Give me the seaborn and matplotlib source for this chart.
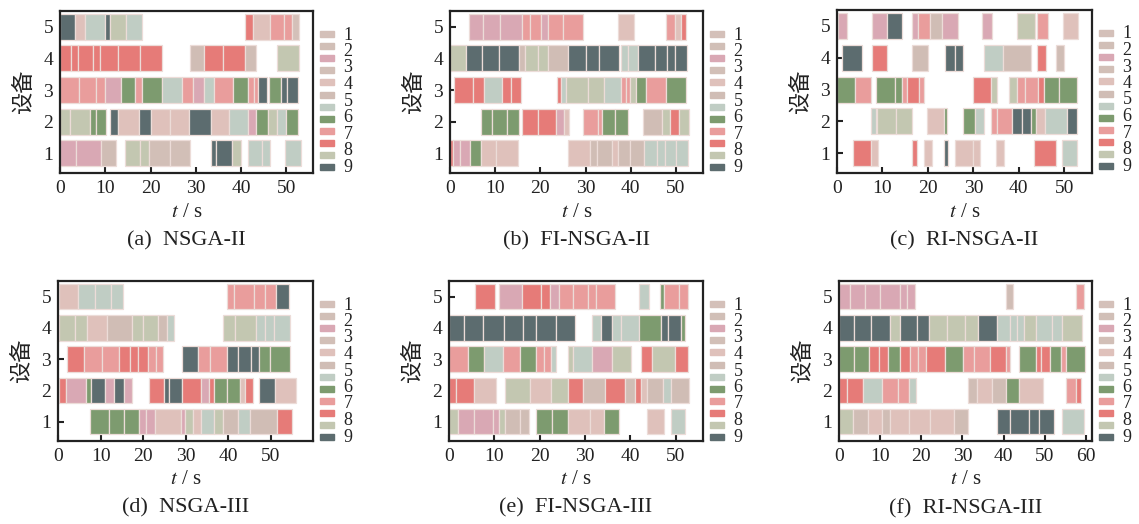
import matplotlib
matplotlib.use('Agg')
import matplotlib.pyplot as plt
from matplotlib.patches import Rectangle
import seaborn as sns
import pandas as pd

sns.set_theme(style='ticks')
plt.rcParams['font.family'] = ['Liberation Serif', 'Noto Sans CJK SC']
plt.rcParams['mathtext.fontset'] = 'stix'

# colour of each job (legend shows 12 keys)
job_colors = ['#d4c0b9', '#d1bfb7', '#d9a8b4', '#d2bfb7', '#dfc1bb', '#d0bdb5',
              '#c0cdc4', '#7d9b6f', '#e99d9c', '#e67b78', '#c3c7b1', '#5c6c6f']
legend_labels = ['1', '2', '3', '4', '5', '6', '7', '8', '9']
machines = [1, 2, 3, 4, 5]

# (machine, start, end, job)
nsga2 = [
    (5, 0, 3.4, 12), (5, 3.4, 5.6, 5), (5, 5.6, 9.9, 7), (5, 9.9, 11, 12), (5, 11, 14.6, 11),
    (5, 14.6, 18.1, 7), (5, 40.9, 42.6, 10), (5, 42.6, 46.4, 5), (5, 46.4, 49.6, 9),
    (5, 49.6, 51.3, 9), (5, 51.3, 52.9, 1),
    (4, 0, 2.5, 10), (4, 2.5, 4, 10), (4, 4, 7.4, 10), (4, 7.4, 8.75, 10), (4, 8.75, 12.8, 10),
    (4, 12.8, 17.7, 10), (4, 17.7, 22.6, 10), (4, 28.8, 31.8, 6), (4, 31.8, 36.1, 10),
    (4, 36.1, 40.9, 10), (4, 40.9, 43.3, 6), (4, 47.9, 52.9, 11),
    (3, 0, 4.3, 9), (3, 4.3, 7.9, 9), (3, 7.9, 9.9, 9), (3, 9.9, 13.5, 3), (3, 13.5, 16.5, 8),
    (3, 16.5, 18.2, 9), (3, 18.2, 22.6, 8), (3, 22.6, 26.9, 7), (3, 26.9, 29.3, 9),
    (3, 29.3, 31.9, 3), (3, 31.9, 34.1, 7), (3, 34.1, 38.3, 9), (3, 38.3, 41.6, 8),
    (3, 41.6, 42.9, 9), (3, 42.9, 43.8, 9), (3, 43.8, 45.7, 12), (3, 46.2, 48.75, 8),
    (3, 48.75, 50.2, 12), (3, 50.2, 52.5, 12),
    (2, 0, 2.3, 11), (2, 2.3, 6.7, 11), (2, 6.7, 7.9, 8), (2, 7.9, 10.2, 8), (2, 11.1, 12.8, 12),
    (2, 12.8, 17.5, 5), (2, 17.5, 20.1, 12), (2, 20.1, 24.3, 5), (2, 24.3, 28.5, 5),
    (2, 28.5, 33.3, 12), (2, 33.3, 37.4, 5), (2, 37.4, 41.5, 7), (2, 41.5, 43.2, 3),
    (2, 43.2, 46, 8), (2, 46, 48, 11), (2, 48, 49.9, 7), (2, 49.9, 52.5, 8),
    (1, 0, 3.5, 3), (1, 3.5, 9, 3), (1, 9, 12.4, 6), (1, 14.4, 17.7, 11), (1, 17.7, 19.7, 11),
    (1, 19.7, 24.3, 4), (1, 24.3, 28.8, 4), (1, 33.3, 34.4, 12), (1, 34.4, 37.9, 12),
    (1, 37.9, 39.9, 11), (1, 41.5, 44.7, 7), (1, 44.7, 46.3, 7), (1, 49.7, 53.2, 7),
]

fi_nsga2 = [
    (5, 4.25, 7.4, 3), (5, 7.4, 11, 3), (5, 11, 15.9, 3), (5, 15.9, 17.7, 9), (5, 17.7, 20.1, 9),
    (5, 20.1, 21.7, 3), (5, 21.7, 25.1, 9), (5, 25.1, 29.5, 9), (5, 37.1, 40.8, 5),
    (5, 47.8, 49.7, 9), (5, 49.7, 51.1, 5), (5, 51.1, 52.3, 10),
    (4, 0, 3.5, 11), (4, 3.5, 7.05, 12), (4, 7.05, 10.9, 12), (4, 10.9, 15.3, 12),
    (4, 15.3, 16.6, 6), (4, 16.6, 19.4, 11), (4, 19.4, 21.6, 11), (4, 21.6, 26.1, 6),
    (4, 26.1, 30.1, 12), (4, 30.1, 33, 12), (4, 33, 37.3, 12), (4, 37.9, 39.4, 7),
    (4, 39.4, 41.6, 7), (4, 41.6, 45.4, 12), (4, 45.4, 48.1, 12), (4, 48.1, 49.7, 12),
    (4, 49.7, 52.4, 12),
    (3, 0.8, 5, 10), (3, 5, 7.6, 10), (3, 7.6, 11.6, 7), (3, 11.6, 13.5, 10), (3, 13.5, 15.8, 10),
    (3, 23.6, 24.6, 10), (3, 24.6, 25.7, 7), (3, 25.7, 30.5, 11), (3, 30.5, 34, 11),
    (3, 34, 37.9, 7), (3, 37.9, 39, 9), (3, 39, 39.9, 9), (3, 39.9, 41.1, 11),
    (3, 41.1, 43.4, 8), (3, 43.4, 47.8, 9), (3, 47.8, 52.3, 8),
    (2, 6.9, 9.4, 8), (2, 9.4, 12.7, 8), (2, 12.7, 15.3, 8), (2, 15.9, 19.4, 10),
    (2, 19.4, 23.5, 10), (2, 23.5, 25.3, 3), (2, 25.3, 26.4, 5), (2, 29.5, 32.7, 9),
    (2, 32.7, 33.7, 9), (2, 33.7, 36.5, 8), (2, 36.5, 39.5, 8), (2, 42.8, 47, 6),
    (2, 47, 48.6, 11), (2, 48.6, 50.7, 10), (2, 50.7, 53, 11),
    (1, 0, 0.6, 10), (1, 0.6, 2.3, 3), (1, 2.3, 4.5, 3), (1, 4.5, 6.9, 8), (1, 6.9, 10.2, 5),
    (1, 10.2, 15, 5), (1, 26.2, 31, 5), (1, 31, 32.5, 6), (1, 32.5, 35.8, 6), (1, 35.8, 37.1, 5),
    (1, 37.1, 39.9, 6), (1, 39.9, 43, 6), (1, 43, 45.8, 7), (1, 45.8, 47.6, 7), (1, 47.6, 50, 7),
    (1, 50, 52.6, 7),
]

ri_nsga2 = [
    (5, 0.3, 2.1, 3), (5, 7.6, 11.1, 3), (5, 11.1, 14.4, 12), (5, 16.4, 17.9, 3),
    (5, 17.9, 20.4, 9), (5, 20.4, 23, 6), (5, 23, 26.7, 3), (5, 31.9, 34.1, 3),
    (5, 39.6, 43.5, 11), (5, 44, 46.4, 9), (5, 49.7, 53, 5),
    (4, 1.2, 5.4, 12), (4, 7.6, 10.9, 10), (4, 16.4, 20.1, 6), (4, 23.7, 25.9, 12),
    (4, 25.9, 27.8, 12), (4, 32.3, 36.6, 7), (4, 36.6, 42.6, 6), (4, 44.1, 45.9, 10),
    (4, 48.1, 49.9, 6),
    (3, 0, 3.9, 8), (3, 3.9, 7.5, 9), (3, 8.5, 12.7, 8), (3, 12.7, 14.2, 8), (3, 14.2, 15.5, 9),
    (3, 15.5, 18.1, 10), (3, 18.1, 19.2, 9), (3, 30, 33.8, 10), (3, 33.8, 35.1, 11),
    (3, 37.8, 39.6, 11), (3, 39.6, 41.3, 9), (3, 41.3, 44.2, 9), (3, 44.2, 45.5, 10),
    (3, 45.5, 48.9, 8), (3, 48.9, 52.7, 8),
    (2, 7.5, 8.5, 7), (2, 8.9, 13, 11), (2, 13, 16.6, 11), (2, 19.9, 23.6, 5), (2, 23.6, 24.2, 8),
    (2, 27.8, 30.3, 8), (2, 30.3, 32.3, 7), (2, 33.8, 35.1, 9), (2, 35.1, 38.6, 9),
    (2, 38.6, 40.6, 12), (2, 40.6, 42.6, 12), (2, 42.6, 43.7, 8), (2, 43.7, 45.7, 5),
    (2, 45.7, 50.5, 7), (2, 50.5, 52.8, 12),
    (1, 3.6, 7.5, 10), (1, 7.5, 9.1, 5), (1, 16.4, 17.7, 10), (1, 19.1, 21, 5),
    (1, 23.5, 24.5, 12), (1, 25.9, 30, 5), (1, 30, 31.4, 5), (1, 34.9, 36.7, 5),
    (1, 43.4, 48.1, 10), (1, 49.4, 52.7, 7),
]

nsga3 = [
    (5, 0.2, 4.6, 5), (5, 4.6, 8.8, 7), (5, 8.8, 12.4, 7), (5, 12.4, 15.2, 7),
    (5, 39.6, 41.4, 9), (5, 41.4, 46.1, 9), (5, 46.1, 48.7, 9), (5, 48.7, 51.1, 9),
    (5, 51.1, 54.3, 12),
    (4, 0.2, 4.1, 11), (4, 4.1, 6.9, 11), (4, 6.9, 11.4, 5), (4, 11.4, 17.4, 6),
    (4, 17.4, 20, 11), (4, 20, 23.4, 11), (4, 23.4, 25.7, 6), (4, 25.7, 27.3, 7),
    (4, 38.8, 41.5, 11), (4, 41.5, 46.5, 11), (4, 46.5, 48.7, 7), (4, 48.7, 50.7, 7),
    (4, 50.7, 54.6, 7),
    (3, 2, 6.2, 10), (3, 6.2, 10.4, 9), (3, 10.4, 14.3, 9), (3, 14.3, 17, 10), (3, 17, 18.8, 10),
    (3, 18.8, 21.2, 10), (3, 21.2, 23.1, 9), (3, 23.1, 24.7, 9), (3, 29.2, 32.8, 12),
    (3, 32.8, 35.7, 9), (3, 35.7, 39.6, 9), (3, 39.6, 42.2, 12), (3, 42.2, 45.4, 12),
    (3, 45.4, 47.2, 12), (3, 47.2, 49.7, 8), (3, 49.7, 54.4, 8),
    (2, 0.2, 1.8, 10), (2, 1.8, 6.5, 3), (2, 6.5, 7.7, 8), (2, 7.7, 11, 12), (2, 11, 13.2, 3),
    (2, 13.2, 15.5, 12), (2, 15.5, 17.4, 3), (2, 21.3, 24.9, 10), (2, 24.9, 26, 12),
    (2, 26, 29.2, 12), (2, 29.2, 33.5, 10), (2, 33.5, 35.4, 3), (2, 35.4, 36.7, 10),
    (2, 36.7, 39.6, 8), (2, 39.6, 42.7, 8), (2, 42.7, 44, 5), (2, 44, 45.9, 10),
    (2, 47.2, 50.9, 12), (2, 50.9, 55.8, 5),
    (1, 7.6, 12, 8), (1, 12, 15.5, 8), (1, 15.5, 19.1, 8), (1, 19.1, 20.6, 3), (1, 20.6, 22.9, 3),
    (1, 22.9, 29, 5), (1, 29, 29.9, 3), (1, 29.9, 31.7, 11), (1, 31.7, 33.7, 5),
    (1, 33.7, 36.7, 7), (1, 36.7, 38.8, 11), (1, 38.8, 42.3, 6), (1, 42.3, 45.1, 7),
    (1, 45.1, 51.5, 6), (1, 51.5, 55, 10),
]

fi_nsga3 = [
    (5, 5.8, 10.2, 10), (5, 11, 16, 3), (5, 16, 20.2, 10), (5, 20.2, 22.2, 10), (5, 22.2, 24.2, 3),
    (5, 24.2, 27.4, 9), (5, 27.4, 30.6, 9), (5, 30.6, 32.3, 9), (5, 32.3, 36.6, 9),
    (5, 41.8, 44.1, 7), (5, 46.6, 47.5, 8), (5, 47.5, 50.6, 9), (5, 50.6, 52.8, 9),
    (4, 0, 3.4, 12), (4, 3.4, 7.5, 12), (4, 7.5, 12.1, 12), (4, 12.1, 16.3, 12),
    (4, 16.3, 19.1, 12), (4, 19.1, 23.7, 12), (4, 23.7, 27.8, 12), (4, 31.6, 33.5, 7),
    (4, 33.5, 36, 12), (4, 36, 37.9, 7), (4, 37.9, 41.8, 7), (4, 41.8, 46.7, 8),
    (4, 46.7, 48.3, 12), (4, 48.3, 51.2, 12), (4, 51.2, 52.1, 8),
    (3, 0, 4.2, 9), (3, 4.2, 7.7, 8), (3, 7.7, 11.9, 7), (3, 11.9, 15.7, 9), (3, 15.7, 19.1, 8),
    (3, 19.1, 21, 9), (3, 21, 22.5, 9), (3, 22.5, 23.7, 7), (3, 26.3, 27.4, 11),
    (3, 27.4, 31.6, 7), (3, 31.6, 36, 3), (3, 36, 40.1, 11), (3, 42.3, 44.7, 10),
    (3, 44.7, 49.9, 11), (3, 49.9, 52.6, 10),
    (2, 0, 1.6, 10), (2, 1.6, 5.6, 10), (2, 5.6, 10.4, 5), (2, 12.4, 17.8, 11),
    (2, 17.8, 22.5, 5), (2, 22.5, 26.3, 11), (2, 26.3, 29.6, 10), (2, 29.6, 34.4, 6),
    (2, 34.4, 38.8, 10), (2, 38.8, 40.9, 6), (2, 40.9, 42.3, 10), (2, 42.3, 43.6, 5),
    (2, 43.6, 47.1, 6), (2, 47.1, 48.9, 7), (2, 48.9, 53, 6),
    (1, 0, 2, 11), (1, 2, 5.6, 3), (1, 5.6, 9.7, 3), (1, 9.7, 11, 3), (1, 11, 12.4, 11),
    (1, 12.4, 15.6, 6), (1, 15.6, 17.6, 6), (1, 19.1, 22.6, 8), (1, 22.6, 26.3, 8),
    (1, 26.3, 31.1, 5), (1, 31.1, 34.2, 5), (1, 34.2, 37.4, 8), (1, 43.6, 47.3, 5),
    (1, 48.9, 52.1, 7),
]

ri_nsga3 = [
    (5, 0.1, 2.7, 3), (5, 2.7, 6.4, 3), (5, 6.4, 10, 3), (5, 10, 14.9, 3), (5, 14.9, 16.6, 3),
    (5, 16.6, 18.5, 3), (5, 40.6, 42.4, 6), (5, 57.6, 59.6, 9),
    (4, 0.1, 3.7, 12), (4, 3.7, 7.8, 12), (4, 7.8, 12.3, 12), (4, 12.3, 14.9, 11),
    (4, 14.9, 18.9, 12), (4, 18.9, 21.9, 12), (4, 21.9, 26.2, 11), (4, 26.2, 30.6, 11),
    (4, 30.6, 33.9, 11), (4, 33.9, 38.3, 12), (4, 38.3, 41.6, 7), (4, 41.6, 43.3, 7),
    (4, 43.3, 45, 7), (4, 45, 48, 11), (4, 48, 51.7, 7), (4, 51.7, 54.1, 7), (4, 54.1, 59, 11),
    (3, 0.1, 3.7, 8), (3, 3.7, 7.2, 8), (3, 7.2, 9.8, 10), (3, 9.8, 11.9, 10), (3, 11.9, 14.9, 8),
    (3, 14.9, 17.3, 10), (3, 17.3, 19.1, 9), (3, 19.1, 21.1, 9), (3, 21.1, 25.8, 10),
    (3, 25.8, 30.2, 8), (3, 30.2, 32.7, 9), (3, 32.7, 36.7, 9), (3, 36.7, 40.6, 10),
    (3, 40.6, 41.6, 9), (3, 43.7, 47.9, 8), (3, 47.9, 49.2, 10), (3, 49.2, 51.4, 10),
    (3, 51.4, 53.9, 8), (3, 53.9, 55.1, 9), (3, 55.1, 59.9, 8),
    (2, 0.1, 1.9, 10), (2, 1.9, 5.9, 10), (2, 5.9, 10.4, 7), (2, 10.4, 14.3, 9),
    (2, 14.3, 17.1, 9), (2, 17.1, 18.7, 7), (2, 31.3, 33.5, 6), (2, 33.5, 37.3, 5),
    (2, 37.3, 40.7, 6), (2, 40.7, 43.7, 8), (2, 43.7, 49.6, 5), (2, 55.1, 57.7, 9),
    (2, 57.7, 58.9, 10),
    (1, 0.1, 3.5, 11), (1, 3.5, 7, 6), (1, 7, 10.4, 5), (1, 10.4, 12.3, 6), (1, 12.3, 17.1, 5),
    (1, 17.1, 22, 5), (1, 22, 28, 5), (1, 28, 31.3, 6), (1, 38.3, 41.6, 12),
    (1, 41.6, 46.2, 12), (1, 46.2, 48.6, 12), (1, 48.6, 52.2, 12), (1, 54.1, 59.5, 7),
]

titles = ['(a)  NSGA-II', '(b)  FI-NSGA-II', '(c)  RI-NSGA-II',
          '(d)  NSGA-III', '(e)  FI-NSGA-III', '(f)  RI-NSGA-III']
schedules = [nsga2, fi_nsga2, ri_nsga2, nsga3, fi_nsga3, ri_nsga3]
x_max = [55.9, 56.0, 56.1, 59.9, 56.0, 61.5]
x_ticks = [[0, 10, 20, 30, 40, 50]] * 5 + [[0, 10, 20, 30, 40, 50, 60]]

W, H = 1139, 524
# axes boxes in pixels: left, right, top, bottom
boxes = [(60, 313, 11, 173), (450, 703, 11, 173), (837, 1092, 10, 173),
         (58, 313, 281, 441), (449, 703, 281, 441), (839, 1092, 281, 441)]

fig = plt.figure(figsize=(W / 100, H / 100), dpi=100)

for title, sched, xm, xt, (l, r, t, b) in zip(titles, schedules, x_max, x_ticks, boxes):
    ax = fig.add_axes([l / W, 1 - b / H, (r - l) / W, (b - t) / H])
    df = pd.DataFrame(sched, columns=['machine', 'start', 'end', 'job'])
    ax.barh(df['machine'], df['end'] - df['start'], left=df['start'], height=0.82,
            color=[job_colors[j - 1] for j in df['job']],
            edgecolor='#ecdcd8', linewidth=0.9)
    ax.set_xlim(0, xm)
    ax.set_ylim(0.38, 5.5)
    ax.set_xticks(xt)
    ax.set_yticks(machines)
    ax.tick_params(direction='in', length=4, width=1.5, labelsize=14, pad=5,
                   colors='#222222', labelcolor='#222222')
    for s in ax.spines.values():
        s.set_linewidth(1.6)
        s.set_color('#222222')
    ax.set_xlabel('$t$ / s', fontsize=15, labelpad=4, color='#222222')
    ax.set_ylabel('设备', fontsize=16, labelpad=6, color='#222222')
    ax.text(0.5, -0.36, title, transform=ax.transAxes, ha='center', va='top',
            fontsize=16, color='#222222')

    # legend keys: 12 colour patches, labels 1-9
    aw, ah = r - l, b - t
    for i, c in enumerate(job_colors):
        yc = t + 23 + i * 12.1
        ax.add_patch(Rectangle((1 + 7 / aw, (b - yc - 3) / ah), 14 / aw, 6 / ah,
                               transform=ax.transAxes, color=c, clip_on=False))
    for i, lab in enumerate(legend_labels):
        yc = t + 24 + i * 16.5
        ax.text(1 + 35 / aw, (b - yc) / ah, lab, transform=ax.transAxes,
                ha='center', va='center', fontsize=13, color='#222222')

fig.savefig('out.png', dpi=100)
